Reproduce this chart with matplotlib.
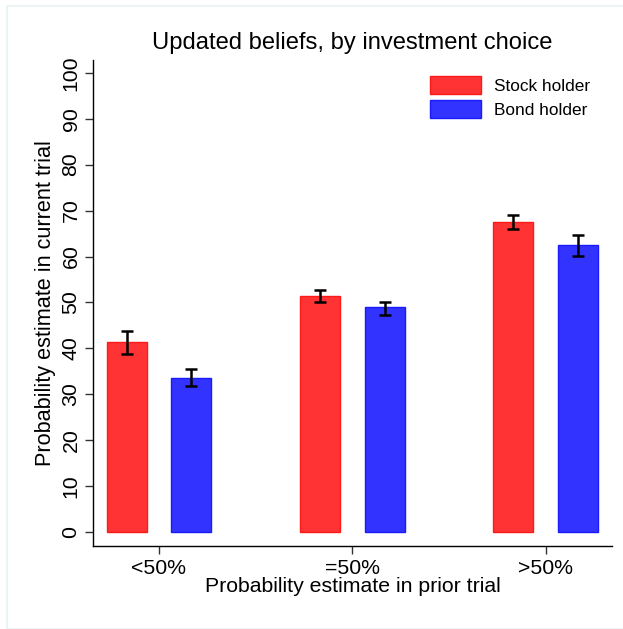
import matplotlib
matplotlib.use("Agg")
import matplotlib.pyplot as plt
from matplotlib.patches import Rectangle
import numpy as np

plt.rcParams['font.family'] = ['Liberation Sans', 'DejaVu Sans']

categories = ["<50%", "=50%", ">50%"]
series_names = ["Stock holder", "Bond holder"]
stock_mean = [41.3, 51.4, 67.5]
stock_lo = [38.7, 50.1, 65.9]
stock_hi = [43.8, 52.7, 69.1]
bond_mean = [33.6, 49.0, 62.5]
bond_lo = [31.7, 47.3, 60.2]
bond_hi = [35.5, 50.1, 64.6]
yticks = [0, 10, 20, 30, 40, 50, 60, 70, 80, 90, 100]

fig = plt.figure(figsize=(6.23, 6.29), dpi=100)
fig.patches.append(Rectangle((7/623, 0), 1, 1 - 6/629, transform=fig.transFigure,
                             fill=False, edgecolor='#EAF2F3', linewidth=1.2))
ax = fig.add_axes([93/623, 1 - 546/629, (612 - 93)/623, (546 - 60)/629])

x = np.arange(len(categories))
w = 0.207
off = 0.167
red = '#FF3333'
blue = '#3333FF'
ax.bar(x - off, stock_mean, width=w, color=red, edgecolor='#FF1A1A', linewidth=1, label=series_names[0])
ax.bar(x + off, bond_mean, width=w, color=blue, edgecolor='#1A1AFF', linewidth=1, label=series_names[1])
ax.errorbar(x - off, stock_mean,
            yerr=[np.array(stock_mean) - np.array(stock_lo), np.array(stock_hi) - np.array(stock_mean)],
            fmt='none', ecolor='black', elinewidth=1.8, capsize=4, capthick=1.8)
ax.errorbar(x + off, bond_mean,
            yerr=[np.array(bond_mean) - np.array(bond_lo), np.array(bond_hi) - np.array(bond_mean)],
            fmt='none', ecolor='black', elinewidth=1.8, capsize=4, capthick=1.8)

ax.set_xlim(-0.3415, 2.344)
ax.set_ylim(-3.05, 102.8)
ax.set_xticks(x)
ax.set_xticklabels(categories, fontsize=15.3)
ax.set_yticks(yticks)
ax.set_yticklabels([str(t) for t in yticks], fontsize=15.3, rotation=90, va='center')
ax.tick_params(axis='both', direction='out', length=6, width=1, color='#333333', pad=3)
for s in ['top', 'right']:
    ax.spines[s].set_visible(False)
for s in ['left', 'bottom']:
    ax.spines[s].set_color('black')
    ax.spines[s].set_linewidth(1)

ax.set_xlabel("Probability estimate in prior trial", fontsize=15.3, labelpad=0)
ax.set_ylabel("Probability estimate in current trial", fontsize=15.6, labelpad=4)
fig.text(352/623, 1 - 43/629, "Updated beliefs, by investment choice", fontsize=17.1,
         ha='center', va='center')

leg = ax.legend(loc='upper left', bbox_to_anchor=(430/623, 1 - 76/629), bbox_transform=fig.transFigure,
                frameon=False, fontsize=12.4, handlelength=2.96, handleheight=1.25,
                handletextpad=0.75, labelspacing=0.32, borderpad=0, borderaxespad=0)

fig.savefig("out.png", dpi=100)
